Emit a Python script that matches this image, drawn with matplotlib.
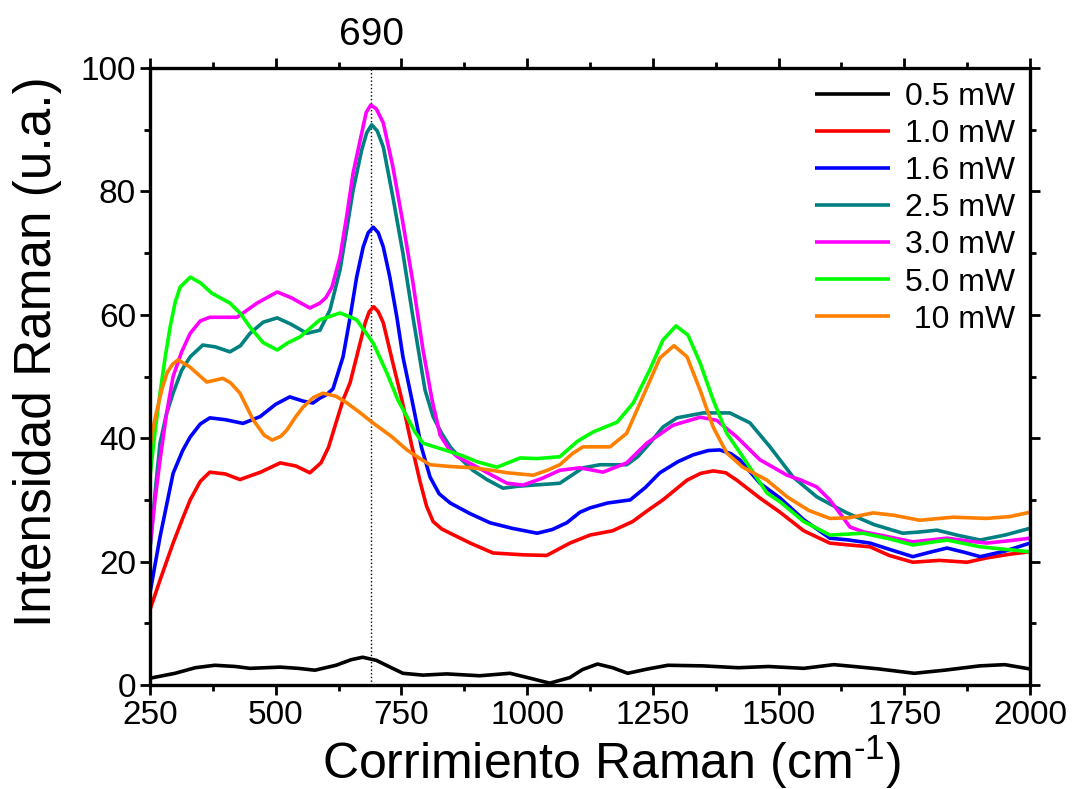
import numpy as np
import matplotlib
matplotlib.use("Agg")
import matplotlib.pyplot as plt
from matplotlib.ticker import MultipleLocator

plt.rcParams['font.family'] = ['Liberation Sans', 'DejaVu Sans']
plt.rcParams['mathtext.fontset'] = 'custom'
plt.rcParams['mathtext.rm'] = 'Liberation Sans'
plt.rcParams['mathtext.it'] = 'Liberation Sans:italic'

# ========== DONNÉES ==========
labels = ["0.5 mW", "1.0 mW", "1.6 mW", "2.5 mW", "3.0 mW", "5.0 mW", " 10 mW"]
colors = ["#000000", "#FF0000", "#0000FF", "#008080", "#FF00FF", "#00FF00", "#FF8000"]

# 0.5 mW
x_05 = [250, 300, 340, 379, 420, 449, 509, 545, 578, 620, 650, 673, 700, 730, 753, 793, 840, 906,
        966, 1006, 1045, 1085, 1110, 1140, 1170, 1200, 1240, 1280, 1350, 1420, 1480, 1550, 1610,
        1650, 1700, 1770, 1830, 1900, 1950, 2000]
y_05 = [1.1, 1.9, 2.8, 3.2, 3.0, 2.7, 2.9, 2.7, 2.4, 3.2, 4.1, 4.5, 4.0, 2.8, 1.9, 1.6, 1.8, 1.5,
        1.9, 1.1, 0.3, 1.2, 2.5, 3.4, 2.8, 1.9, 2.6, 3.2, 3.1, 2.8, 3.0, 2.7, 3.3,
        3.0, 2.6, 1.9, 2.4, 3.1, 3.3, 2.6]

# 1.0 mW
x_10 = [250, 270, 296, 315, 330, 350, 369, 400, 429, 470, 509, 540, 568, 590, 605, 620, 634, 648,
        661, 678, 686, 695, 704, 714, 733, 751, 770, 787, 800, 813, 830, 847, 887, 932, 992, 1039,
        1085, 1125, 1170, 1210, 1240, 1270, 1318, 1345, 1370, 1395, 1417, 1463, 1503, 1550, 1602,
        1640, 1682, 1720, 1767, 1820, 1875, 1914, 1960, 2000]
y_10 = [12.2, 17, 23, 27, 30, 33, 34.5, 34.2, 33.3, 34.5, 36, 35.5, 34.4, 36, 38.5, 42.5, 46.2, 49,
        53.2, 58.7, 60.5, 61.3, 60.5, 58.7, 52.2, 46.2, 39, 33, 29, 26.5, 25.3, 24.6, 23, 21.4, 21.1, 21,
        23, 24.3, 25, 26.5, 28.3, 30, 33.2, 34.3, 34.7, 34.4, 33.2, 30.3, 28, 25, 23,
        22.7, 22.4, 21, 19.9, 20.2, 19.9, 20.6, 21.2, 21.6]

# 1.6 mW
x_16 = [250, 270, 296, 315, 330, 350, 369, 400, 435, 469, 500, 528, 555, 574, 588, 600, 614, 634,
        648, 661, 674, 684, 694, 704, 714, 727, 741, 753, 771, 790, 807, 825, 847, 886, 926, 970,
        1020, 1050, 1079, 1105, 1125, 1160, 1205, 1235, 1264, 1300, 1330, 1360, 1383, 1405, 1423,
        1463, 1503, 1550, 1602, 1640, 1682, 1720, 1767, 1800, 1835, 1870, 1901, 1950, 2000]
y_16 = [14.9, 24, 34.3, 38, 40.2, 42.3, 43.3, 43, 42.4, 43.5, 45.5, 46.7, 46, 45.7, 46.5, 47, 48, 53.2,
        59.6, 66.1, 71, 73.3, 74.2, 73.3, 71, 66.1, 59.6, 53.2, 46.2, 38.5, 33.7, 31, 29.5, 27.8, 26.3, 25.4,
        24.6, 25.2, 26.3, 28, 28.7, 29.5, 30, 32, 34.4, 36.2, 37.3, 38, 38.1, 37.5, 36.5,
        32.7, 30.3, 26.8, 23.8, 23.5, 23, 22, 20.8, 21.5, 22.2, 21.5, 20.8, 21.7, 23]

# 2.5 mW
x_25 = [250, 260, 270, 283, 296, 313, 330, 355, 380, 409, 430, 449, 475, 503, 530, 562, 588, 608,
        628, 641, 654, 671, 681, 691, 702, 714, 733, 753, 773, 797, 813, 830, 847, 870, 892, 920,
        952, 980, 1012, 1065, 1111, 1145, 1198, 1220, 1244, 1270, 1298, 1350, 1403, 1443, 1483,
        1529, 1576, 1610, 1636, 1690, 1747, 1780, 1815, 1860, 1901, 1950, 2000]
y_25 = [21.9, 31, 39.2, 44, 47.3, 51, 53.2, 55.1, 54.8, 54, 55, 57, 58.8, 59.5, 58.5, 57, 57.5, 60.8,
        67.3, 73.7, 80.2, 86.7, 89.5, 90.8, 89.8, 87.2, 79.1, 70, 59.6, 47.8, 43.5, 40.8, 38.6, 36.5, 34.8, 33.3,
        31.9, 32.2, 32.4, 32.7, 35.2, 35.7, 35.7, 37, 39.2, 41.8, 43.3, 44.1, 44.1, 42.5, 38.6,
        33.7, 30.5, 29, 27.9, 26, 24.6, 24.8, 25.1, 24.2, 23.5, 24.3, 25.4]

# 3.0 mW
x_30 = [250, 260, 270, 283, 296, 313, 330, 350, 369, 400, 423, 463, 503, 530, 568, 588, 600, 612,
        628, 641, 654, 668, 680, 689, 700, 714, 733, 753, 773, 793, 811, 827, 845, 861, 892, 930,
        960, 992, 1030, 1065, 1105, 1151, 1198, 1238, 1290, 1344, 1377, 1417, 1463, 1517, 1545,
        1576, 1602, 1625, 1642, 1670, 1702, 1767, 1835, 1880, 1914, 1960, 2000]
y_30 = [22.4, 30, 36.5, 44, 50, 54, 57, 59, 59.6, 59.6, 59.6, 61.9, 63.7, 62.8, 61.1, 61.9, 62.8, 64.5,
        69.4, 75.9, 83, 88.3, 92.8, 94, 93.4, 91.1, 84, 74.9, 65.2, 54.3, 46.2, 40.5, 38.2, 37, 35.7, 34,
        32.7, 32.4, 33.5, 34.8, 35.2, 34.5, 36, 39.2, 42.1, 43.4, 42.9, 40.2, 36.5, 34, 33.2,
        32.1, 30, 27.5, 25.6, 24.8, 24.3, 23.2, 23.8, 23.3, 23, 23.4, 23.8]

# 5.0 mW
x_50 = [250, 260, 270, 280, 290, 300, 310, 330, 350, 373, 409, 430, 449, 475, 503, 525, 548, 588,
        628, 661, 694, 721, 743, 761, 777, 793, 820, 840, 870, 900, 940, 986, 1020, 1065, 1100, 1131,
        1179, 1211, 1244, 1270, 1296, 1320, 1344, 1370, 1397, 1437, 1477, 1503, 1550, 1602, 1668,
        1720, 1767, 1835, 1901, 1950, 2000]
y_50 = [33.7, 41, 47.3, 53, 58, 62, 64.5, 66.1, 65.2, 63.5, 61.9, 60.2, 58, 55.5, 54.3, 55.5, 56.4, 59.2,
        60.3, 59.2, 55.4, 50.6, 46.2, 43.5, 41, 39.2, 38.5, 38, 37.2, 36.2, 35.3, 36.8, 36.7, 37, 39.5, 41,
        42.6, 45.7, 51.1, 55.9, 58.2, 56.7, 52.2, 46.2, 40.8, 36, 31.1, 29.7, 26.5, 24.3, 24.6,
        23.7, 22.7, 23.5, 22.4, 22, 21.6]

# 10 mW
x_100 = [250, 257, 264, 274, 284, 295, 306, 330, 363, 395, 410, 429, 455, 477, 493, 510, 522, 540,
         554, 575, 594, 620, 642, 670, 693, 730, 761, 785, 807, 850, 892, 930, 960, 1012, 1040, 1065,
         1090, 1111, 1165, 1198, 1230, 1264, 1292, 1318, 1344, 1370, 1397, 1429, 1477, 1517, 1560,
         1602, 1640, 1688, 1730, 1781, 1847, 1914, 1960, 2000]
y_100 = [38.6, 42, 44.6, 48, 50.6, 52, 52.7, 51.5, 49.1, 49.7, 49, 47.3, 43, 40.5, 39.7, 40.3, 41.3, 43.5,
         45, 46.6, 47.3, 46.8, 45.7, 44, 42.5, 40.3, 38.1, 36.8, 35.7, 35.4, 35.2, 34.8, 34.4, 34, 34.8, 35.7,
         37.5, 38.6, 38.6, 40.8, 46.7, 53, 55, 53.2, 47.8, 41.8, 37.6, 35.3, 33.2, 30.5, 28.3,
         27, 27.1, 27.9, 27.5, 26.7, 27.2, 27, 27.3, 28]

series_x = [x_05, x_10, x_16, x_25, x_30, x_50, x_100]
series_y = [y_05, y_10, y_16, y_25, y_30, y_50, y_100]

pic = 690

# ========== FIGURE ==========
fig = plt.figure(figsize=(10.72, 7.89), dpi=100)
ax = fig.add_axes([0.1399, 0.1318, 0.8209, 0.782])

ax.axvline(pic, color='black', linestyle=':', linewidth=1.0, zorder=1)

for xs, ys, c, lab in zip(series_x, series_y, colors, labels):
    ax.plot(xs, ys, color=c, linewidth=2.6, label=lab, solid_joinstyle='round',
            solid_capstyle='butt', zorder=2)

ax.set_xlim(250, 2000)
ax.set_ylim(0, 100)
ax.xaxis.set_major_locator(MultipleLocator(250))
ax.xaxis.set_minor_locator(MultipleLocator(125))
ax.yaxis.set_major_locator(MultipleLocator(20))
ax.yaxis.set_minor_locator(MultipleLocator(10))

for s in ax.spines.values():
    s.set_linewidth(2.4)
ax.tick_params(which='both', direction='out', top=True, right=True, width=2.0)
ax.tick_params(which='major', length=7, labelsize=24)
ax.tick_params(axis='x', which='major', pad=4)
ax.tick_params(axis='y', which='major', pad=3)
ax.tick_params(which='minor', length=4.5)

ax.set_xlabel('Corrimiento Raman (cm$^{\\mathregular{\u20101}}$)', fontsize=36)
ax.xaxis.set_label_coords(0.524, -0.078)
ax.set_ylabel('Intensidad Raman (u.a.)', fontsize=37)
ax.yaxis.set_label_coords(-0.1, 0.54)

ax.annotate(str(pic), xy=(pic, 100), xytext=(0, 16.5), textcoords='offset points',
            ha='center', va='baseline', fontsize=28, annotation_clip=False)

ax.legend(loc='upper right', frameon=False, fontsize=23, handlelength=2.35,
          handletextpad=0.47, labelspacing=0.22, borderpad=0.2, borderaxespad=0.25)

fig.savefig('out.png', dpi=100)
